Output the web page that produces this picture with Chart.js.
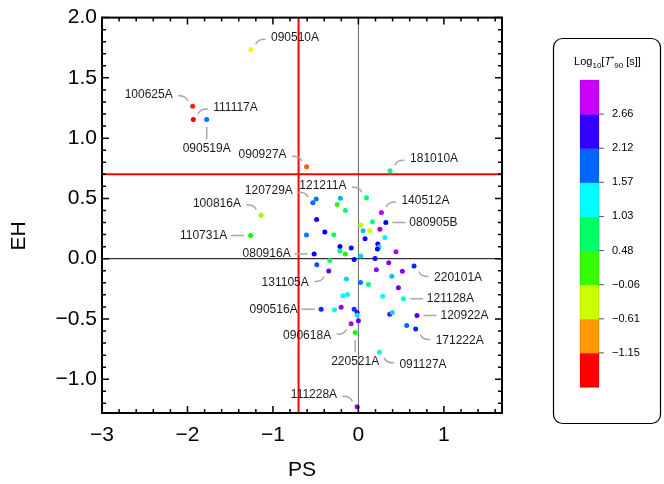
<!DOCTYPE html>
<html lang="en">
<head>
<meta charset="UTF-8">
<title>EH vs PS</title>
<script src="https://cdn.jsdelivr.net/npm/chart.js"></script>
<style>
    html, body { margin: 0; padding: 0; background: #fff; }
    #chartContainer { width: 664px; height: 484px; position: relative; }
</style>
</head>
<body>
<div id="chartContainer">
    <canvas id="ehPsChart" width="664" height="484"></canvas>
</div>
<script>
// one entry per burst; '' means no callout
const grbNames = ['090510A', '100625A', '111117A', '090519A', '090927A', '181010A', '121211A', '', '120729A', '',
    '', '', '140512A', '', '', '080905B', '', '', '', '',
    '', '', '', '', '', '', '', '', '', '',
    '', '', '', '080916A', '', '', '', '', '', '',
    '220101A', '131105A', '', '', '', '', '', '', '', '',
    '', '', '121128A', '090516A', '', '', '', '', '', '',
    '090618A', '', '', '120922A', '', '171222A', '220521A', '091127A', '111228A', '100816A',
    '110731A'];
const psValues = [-1.257, -1.939, -1.932, -1.775, -0.606, 0.370, 0.094, -0.494, -0.533, -0.211,
    -0.249, -0.152, 0.269, -0.489, 0.164, 0.321, 0.028, 0.055, 0.133, 0.251,
    0.309, -0.393, -0.288, -0.608, 0.078, 0.227, 0.242, 0.222, -0.216, -0.084,
    -0.216, -0.154, 0.439, -0.518, 0.028, -0.050, 0.195, -0.335, 0.355, -0.487,
    0.651, -0.347, 0.210, 0.514, 0.391, -0.140, 0.025, 0.118, 0.468, -0.182,
    -0.128, 0.285, 0.526, -0.436, -0.280, -0.202, -0.050, -0.015, -0.015, 0.000,
    -0.085, 0.366, 0.396, 0.685, 0.565, 0.670, -0.038, 0.246, -0.015, -1.140,
    -1.261];
const ehValues = [1.733, 1.264, 1.155, 1.155, 0.763, 0.730, 0.506, 0.496, 0.465, 0.502,
    0.449, 0.399, 0.383, 0.325, 0.306, 0.300, 0.279, 0.231, 0.231, 0.245,
    0.176, 0.221, 0.198, 0.196, 0.165, 0.121, 0.097, 0.080, 0.102, 0.088,
    0.064, 0.039, 0.058, 0.039, 0.022, -0.006, 0.002, -0.014, -0.033, -0.050,
    -0.060, -0.102, -0.091, -0.105, -0.146, -0.168, -0.198, -0.215, -0.240, -0.308,
    -0.298, -0.312, -0.333, -0.419, -0.424, -0.402, -0.419, -0.446, -0.469, -0.515,
    -0.540, -0.460, -0.446, -0.471, -0.554, -0.584, -0.612, -0.777, -1.229, 0.360,
    0.193];
const logT90 = [-0.54, -1.30, -1.42, 1.79, -1.09, 0.85, 0.70, 1.79, 1.83, 1.58,
    0.25, 0.78, 2.89, 2.29, 0.85, 2.21, -0.28, 1.53, -0.33, 2.74,
    1.34, 2.21, 0.70, 1.76, 2.14, 2.29, 1.38, 2.21, 2.21, 2.29,
    0.85, 0.32, 2.79, 2.21, 1.46, 2.21, 2.29, 0.78, 2.70, 1.91,
    2.06, 2.55, 2.74, 2.67, 1.53, 1.46, 1.79, 0.85, 2.59, 1.27,
    1.34, 1.27, 1.15, 2.06, 1.23, 2.74, 2.03, 2.44, 1.38, 2.52,
    2.82, 2.55, 1.46, 2.49, 1.83, 2.06, 0.47, 1.15, 2.70, -0.13,
    0.37];

const xTicks = [-3, -2, -1, 0, 1];
const yTicks = [-1, -0.5, 0, 0.5, 1, 1.5, 2];
const colorbarTicks = [-1.15, -0.61, -0.06, 0.48, 1.03, 1.57, 2.12, 2.66];
const psCut = -0.7;
const ehCut = 0.7;
const xMin = -3, xMax = 1.68;
const yMin = -1.28, yMax = 2.0;

// where each callout sits relative to its point
const calloutSide = {
    '090510A': 'ne', '100625A': 'nw', '111117A': 'ne', '090519A': 's', '090927A': 'nw',
    '181010A': 'ne', '121211A': 'nw', '120729A': 'nw', '140512A': 'ne', '080905B': 'e',
    '100816A': 'nw', '110731A': 'w', '080916A': 'w', '131105A': 'sw', '220101A': 'se',
    '121128A': 'e', '120922A': 'e', '171222A': 'se', '091127A': 'se', '220521A': 's',
    '090618A': 'sw', '090516A': 'w', '111228A': 'nw'
};

const FONT = "'Liberation Sans', Arial, sans-serif";

// colour bins are 36 degrees of hue apart, red at the bottom bin
const binStep = (colorbarTicks[colorbarTicks.length - 1] - colorbarTicks[0]) / (colorbarTicks.length - 1);
const firstCenter = colorbarTicks[0] - binStep / 2;
function hueFor(v) {
    return Math.max(0, Math.min(288, 36 * (v - firstCenter) / binStep));
}
const pointColors = logT90.map(v => 'hsl(' + hueFor(v).toFixed(1) + ',100%,50%)');

const minus = s => String(s).replace('-', '\u2212');

const frameTicks = {
    id: 'frameTicks',
    afterDatasetsDraw(chart) {
        const {ctx, chartArea: a, scales: {x, y}} = chart;
        ctx.save();
        ctx.strokeStyle = '#000';
        ctx.lineWidth = 1.5;
        ctx.beginPath();
        for (let k = -15; k <= 8; k++) {
            const px = x.getPixelForValue(k / 5);
            const len = k % 5 === 0 ? 7 : 4;
            ctx.moveTo(px, a.bottom); ctx.lineTo(px, a.bottom - len);
            ctx.moveTo(px, a.top); ctx.lineTo(px, a.top + len);
        }
        for (let k = -12; k <= 20; k++) {
            const py = y.getPixelForValue(k / 10);
            const len = k % 5 === 0 ? 7 : 4;
            ctx.moveTo(a.left, py); ctx.lineTo(a.left + len, py);
            ctx.moveTo(a.right, py); ctx.lineTo(a.right - len, py);
        }
        ctx.stroke();
        ctx.lineWidth = 2;
        ctx.strokeRect(a.left, a.top, a.right - a.left, a.bottom - a.top);

        // vertical axis label, sitting a little below the frame centre
        ctx.translate(19, 236);
        ctx.rotate(-Math.PI / 2);
        ctx.font = '21px ' + FONT;
        ctx.fillStyle = '#000';
        ctx.textAlign = 'center';
        ctx.textBaseline = 'middle';
        ctx.fillText('EH', 0, 0);
        ctx.restore();
    }
};

const callouts = {
    id: 'callouts',
    afterDatasetsDraw(chart) {
        const {ctx} = chart;
        const pts = chart.getDatasetMeta(0).data;
        ctx.save();
        ctx.font = '12px ' + FONT;
        ctx.fillStyle = '#1a1a1a';
        ctx.strokeStyle = '#a8a8a8';
        ctx.lineWidth = 1.5;
        ctx.lineCap = 'round';
        ctx.textBaseline = 'middle';
        grbNames.forEach((name, i) => {
            if (!name) return;
            const side = calloutSide[name];
            const px = pts[i].x, py = pts[i].y;
            ctx.beginPath();
            if (side === 's') {
                ctx.moveTo(px, py + 8); ctx.lineTo(px, py + 19);
                ctx.stroke();
                ctx.textAlign = 'center';
                ctx.fillText(name, px, py + 29);
            } else if (side === 'e' || side === 'w') {
                const sx = side === 'e' ? 1 : -1;
                ctx.moveTo(px + sx * 7, py); ctx.lineTo(px + sx * 19, py);
                ctx.stroke();
                ctx.textAlign = sx > 0 ? 'left' : 'right';
                ctx.fillText(name, px + sx * 23.5, py);
            } else {
                const sx = side.includes('e') ? 1 : -1;
                const sy = side.includes('n') ? -1 : 1;
                ctx.moveTo(px + sx * 5, py + sy * 6);
                ctx.quadraticCurveTo(px + sx * 7, py + sy * 10.5, px + sx * 14, py + sy * 10.5);
                ctx.stroke();
                ctx.textAlign = sx > 0 ? 'left' : 'right';
                ctx.fillText(name, px + sx * 20, py + sy * 12);
            }
        });
        ctx.restore();
    }
};

const colorbarLegend = {
    id: 'colorbarLegend',
    afterDraw(chart) {
        const ctx = chart.ctx;
        ctx.save();
        // rounded box
        const bx = 553.5, by = 38.5, bw = 107, bh = 385, r = 9;
        ctx.strokeStyle = '#000';
        ctx.lineWidth = 1.2;
        ctx.beginPath();
        ctx.roundRect(bx, by, bw, bh, r);
        ctx.stroke();

        // title: Log10[T*90 [s]]
        const parts = [
            {t: 'Log', f: '11px ' + FONT, dy: 0},
            {t: '10', f: '8px ' + FONT, dy: 3},
            {t: '[', f: '11px ' + FONT, dy: 0},
            {t: 'T', f: 'italic 11px ' + FONT, dy: 0},
            {t: '*', f: '8px ' + FONT, dy: -4},
            {t: '90', f: '8px ' + FONT, dy: 3},
            {t: ' [s]]', f: '11px ' + FONT, dy: 0}
        ];
        let total = 0;
        parts.forEach(p => { ctx.font = p.f; p.w = ctx.measureText(p.t).width; total += p.w; });
        let tx = 607.5 - total / 2;
        ctx.fillStyle = '#000';
        ctx.textBaseline = 'alphabetic';
        ctx.textAlign = 'left';
        parts.forEach(p => { ctx.font = p.f; ctx.fillText(p.t, tx, 65 + p.dy); tx += p.w; });

        // colour segments, violet at top down to red
        const cx = 580, cw = 19, top = 80, bottom = 387;
        const nBins = colorbarTicks.length + 1;
        const seg = (bottom - top) / nBins;
        for (let k = 0; k < nBins; k++) {
            ctx.fillStyle = 'hsl(' + (36 * k) + ',100%,50%)';
            ctx.fillRect(cx, bottom - (k + 1) * seg, cw, seg + 0.5);
        }
        ctx.strokeStyle = 'rgba(0,0,0,0.25)';
        ctx.lineWidth = 0.6;
        ctx.strokeRect(cx, top, cw, bottom - top);

        ctx.font = '11px ' + FONT;
        ctx.fillStyle = '#000';
        ctx.strokeStyle = '#555';
        ctx.lineWidth = 1;
        ctx.textBaseline = 'middle';
        colorbarTicks.forEach((v, k) => {
            const yy = bottom - (k + 1) * seg;
            ctx.beginPath();
            ctx.moveTo(cx + cw, yy); ctx.lineTo(cx + cw + 5, yy);
            ctx.stroke();
            ctx.fillText(minus(v.toFixed(2)), 612, yy);
        });
        ctx.restore();
    }
};

const ctx = document.getElementById('ehPsChart').getContext('2d');
new Chart(ctx, {
    type: 'scatter',
    data: {
        datasets: [
            {
                label: 'GRBs',
                data: psValues.map((v, i) => ({x: v, y: ehValues[i]})),
                pointBackgroundColor: pointColors,
                pointBorderWidth: 0,
                pointRadius: 2.5,
                order: 0
            },
            {
                label: 'PS cut',
                data: [{x: psCut, y: yMin}, {x: psCut, y: yMax}],
                showLine: true, borderColor: '#ff0000', borderWidth: 2, pointRadius: 0, order: 1
            },
            {
                label: 'EH cut',
                data: [{x: xMin, y: ehCut}, {x: xMax, y: ehCut}],
                showLine: true, borderColor: '#ff0000', borderWidth: 2, pointRadius: 0, order: 1
            },
            {
                label: 'PS = 0',
                data: [{x: 0, y: yMin}, {x: 0, y: yMax}],
                showLine: true, borderColor: '#666', borderWidth: 1, pointRadius: 0, order: 2
            },
            {
                label: 'EH = 0',
                data: [{x: xMin, y: 0}, {x: xMax, y: 0}],
                showLine: true, borderColor: '#000', borderWidth: 1, pointRadius: 0, order: 2
            }
        ]
    },
    options: {
        responsive: false,
        animation: false,
        layout: { padding: { top: 15, right: 162, left: 0, bottom: 0 } },
        plugins: {
            legend: { display: false },
            tooltip: { enabled: false }
        },
        scales: {
            x: {
                min: xMin, max: xMax,
                afterBuildTicks: s => { s.ticks = xTicks.map(v => ({value: v})); },
                afterFit: s => { s.height = 71; },
                grid: { display: false, drawTicks: false },
                border: { display: false },
                ticks: {
                    padding: 10, color: '#000',
                    font: { family: FONT, size: 21 },
                    callback: v => minus(v)
                },
                title: {
                    display: true, text: 'PS', color: '#000',
                    font: { family: FONT, size: 21 },
                    padding: { top: 0, bottom: 1 }
                }
            },
            y: {
                min: yMin, max: yMax,
                afterBuildTicks: s => { s.ticks = yTicks.map(v => ({value: v})); },
                afterFit: s => { s.width = 102; },
                grid: { display: false, drawTicks: false },
                border: { display: false },
                ticks: {
                    padding: 5, color: '#000',
                    font: { family: FONT, size: 21 },
                    callback: v => minus(Number(v).toFixed(1))
                },
                title: { display: false }
            }
        }
    },
    plugins: [frameTicks, callouts, colorbarLegend]
});
</script>
</body>
</html>
